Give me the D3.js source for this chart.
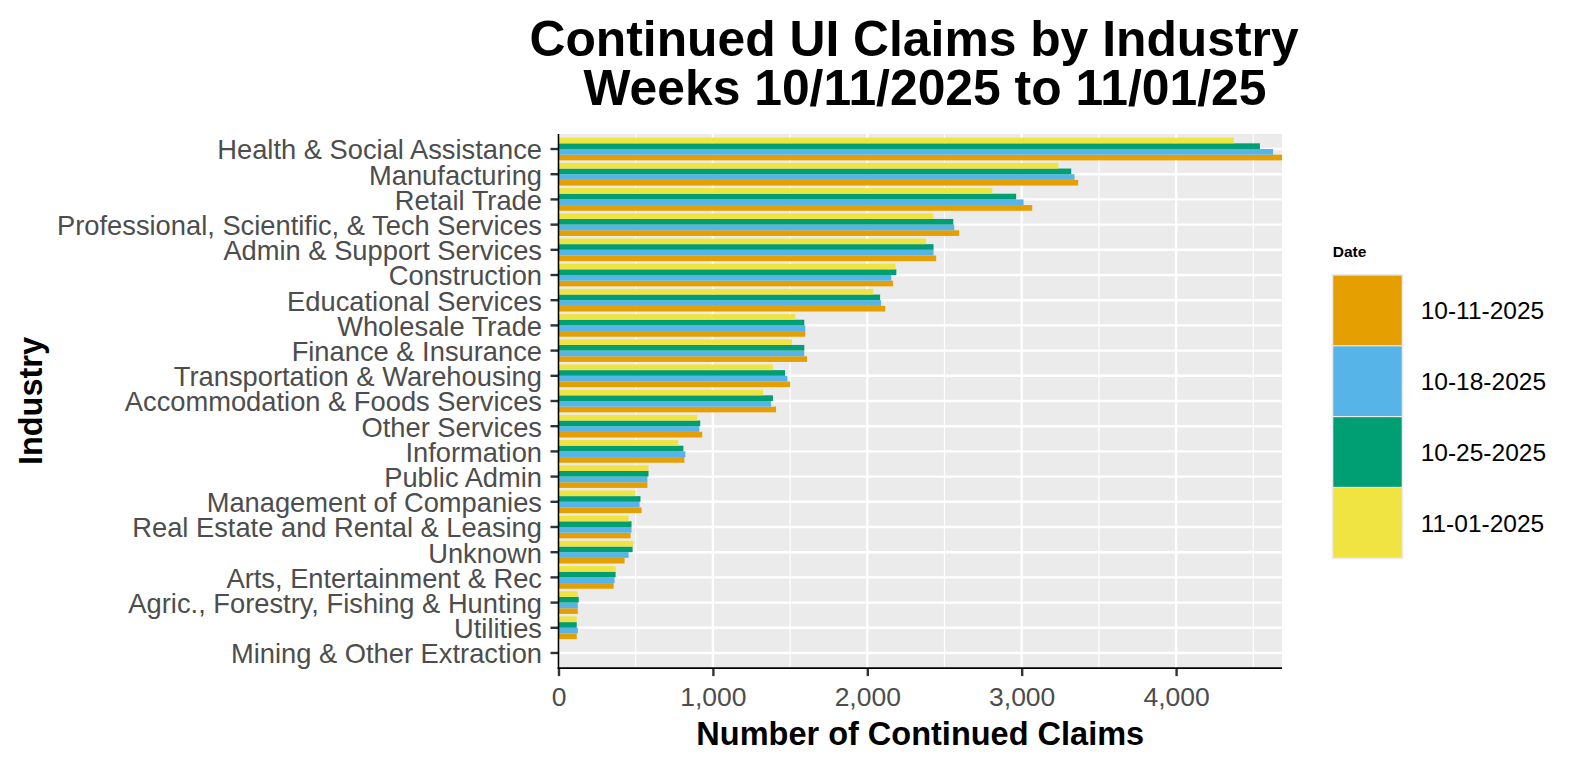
<!DOCTYPE html>
<html><head><meta charset="utf-8">
<script src="https://cdn.jsdelivr.net/npm/d3@7"></script>
<style>
body{margin:0;background:#fff;}
text{font-family:"Liberation Sans",Arial,Helvetica,sans-serif;}
</style>
</head><body>
<svg id="c" width="1581" height="766"></svg>
<script>
const categories = [
  "Health & Social Assistance","Manufacturing","Retail Trade",
  "Professional, Scientific, & Tech Services","Admin & Support Services",
  "Construction","Educational Services","Wholesale Trade","Finance & Insurance",
  "Transportation & Warehousing","Accommodation & Foods Services","Other Services",
  "Information","Public Admin","Management of Companies",
  "Real Estate and Rental & Leasing","Unknown","Arts, Entertainment & Rec",
  "Agric., Forestry, Fishing & Hunting","Utilities","Mining & Other Extraction"
];
const dates = ["10-11-2025","10-18-2025","10-25-2025","11-01-2025"];
const claims_1011 = [4686,3366,3068,2595,2446,2167,2116,1598,1610,1500,1409,931,815,576,538,467,428,357,125,118,0];
const claims_1018 = [4628,3342,3012,2563,2429,2155,2089,1598,1592,1482,1376,912,822,576,525,473,454,363,125,125,0];
const claims_1025 = [4543,3321,2964,2557,2429,2188,2083,1592,1592,1467,1389,918,809,583,531,473,480,370,131,118,0];
const claims_1101 = [4375,3238,2810,2429,2381,2182,2039,1533,1512,1390,1325,899,776,583,499,454,486,370,125,118,0];
const xTicks = [0,1000,2000,3000,4000];
const xMinor = [500,1500,2500,3500,4500];
const colors = ["#E69F00","#56B4E9","#009E73","#F0E442"];

const series = [claims_1011, claims_1018, claims_1025, claims_1101];
const rows = [];
categories.forEach((c,i)=>dates.forEach((d,j)=>rows.push({cat:c,date:d,value:series[j][i]})));

const svg = d3.select("#c");
svg.append("rect").attr("width",1581).attr("height",766).attr("fill","#fff");

const L=558.5, R=1282, T=133.9, B=668.1;
const x = d3.scaleLinear().domain([0, d3.max(rows,r=>r.value)]).range([L,R]);
const y = d3.scaleBand().domain(categories).range([T,B]).paddingInner(0).paddingOuter(0.1);
const inner = d3.scaleBand().domain(dates.slice().reverse())
  .range([y.bandwidth()*0.05, y.bandwidth()*0.95]).padding(0);
const color = d3.scaleOrdinal().domain(dates).range(colors);

// panel
svg.append("rect").attr("x",L).attr("y",T).attr("width",R-L).attr("height",B-T).attr("fill","#EBEBEB");
const grid = svg.append("g");
grid.selectAll(".mn").data(xMinor.filter(v=>x(v)<=R)).join("line")
  .attr("x1",d=>x(d)).attr("x2",d=>x(d)).attr("y1",T).attr("y2",B)
  .attr("stroke","#fff").attr("stroke-width",1.2);
grid.selectAll(".mj").data(xTicks).join("line")
  .attr("x1",d=>x(d)).attr("x2",d=>x(d)).attr("y1",T).attr("y2",B)
  .attr("stroke","#fff").attr("stroke-width",2.4);
grid.selectAll(".hy").data(categories).join("line")
  .attr("x1",L).attr("x2",R).attr("y1",d=>y(d)+y.bandwidth()/2).attr("y2",d=>y(d)+y.bandwidth()/2)
  .attr("stroke","#fff").attr("stroke-width",2.4);

// bars
svg.append("g").selectAll("rect").data(rows).join("rect")
  .attr("x",x(0)).attr("y",d=>y(d.cat)+inner(d.date))
  .attr("width",d=>x(d.value)-x(0)).attr("height",inner.bandwidth())
  .attr("fill",d=>color(d.date));

// axes
const xAxis = d3.axisBottom(x).tickValues(xTicks).tickFormat(d3.format(",")).tickSize(8).tickSizeOuter(0).tickPadding(11);
const gx = svg.append("g").attr("transform",`translate(0,${B})`).call(xAxis);
gx.select(".domain").remove();
gx.selectAll(".tick line").attr("stroke","#333").attr("stroke-width",2.4);
gx.selectAll(".tick text").attr("fill","#4D4D4D").style("font-size","26.5px").attr("font-family",null);

const yAxis = d3.axisLeft(y).tickSize(8).tickSizeOuter(0).tickPadding(8.5);
const gy = svg.append("g").attr("transform",`translate(${L},0)`).call(yAxis);
gy.select(".domain").remove();
gy.selectAll(".tick line").attr("stroke","#333").attr("stroke-width",2.4);
gy.selectAll(".tick text").attr("fill","#4D4D4D").style("font-size","27.3px").attr("dy","0.38em").attr("font-family",null);

svg.append("line").attr("x1",L).attr("x2",L).attr("y1",T).attr("y2",B+0.8).attr("stroke","#000").attr("stroke-width",1.6);
svg.append("line").attr("x1",L-0.8).attr("x2",R).attr("y1",B).attr("y2",B).attr("stroke","#000").attr("stroke-width",1.6);

// titles
const t = svg.append("g").attr("font-weight","bold").attr("fill","#000").attr("text-anchor","middle").style("font-size","49.8px");
t.append("text").attr("x",914).attr("y",56).text("Continued UI Claims by Industry");
t.append("text").attr("x",925).attr("y",105).text("Weeks 10/11/2025 to 11/01/25");

svg.append("text").attr("x",(L+R)/2).attr("y",745).attr("text-anchor","middle")
  .attr("font-weight","bold").style("font-size","32.5px").text("Number of Continued Claims");
svg.append("text").attr("transform",`translate(41.7,${(T+B)/2}) rotate(-90)`).attr("text-anchor","middle")
  .attr("font-weight","bold").style("font-size","32.5px").text("Industry");

// legend
const lg = svg.append("g");
lg.append("text").attr("x",1332.7).attr("y",257).attr("font-weight","bold").style("font-size","15.5px").text("Date");
const keyTop = 275, keyH = 70.8, keyX = 1332.7, keyW = 69.6;
lg.selectAll(".kb").data(dates).join("rect")
  .attr("x",keyX-1).attr("y",(d,i)=>keyTop+i*keyH-1).attr("width",keyW+2).attr("height",keyH+2)
  .attr("fill","#EBEBEB");
lg.selectAll(".k").data(dates).join("rect")
  .attr("x",keyX+0.6).attr("y",(d,i)=>keyTop+i*keyH+0.6).attr("width",keyW-1.2).attr("height",keyH-1.2)
  .attr("fill",d=>color(d));
lg.selectAll(".kl").data(dates).join("text")
  .attr("x",1420.7).attr("y",(d,i)=>keyTop+i*keyH+keyH/2+0.358*24.5)
  .style("font-size","24.5px").attr("fill","#000").text(d=>d);
</script>
</body></html>
